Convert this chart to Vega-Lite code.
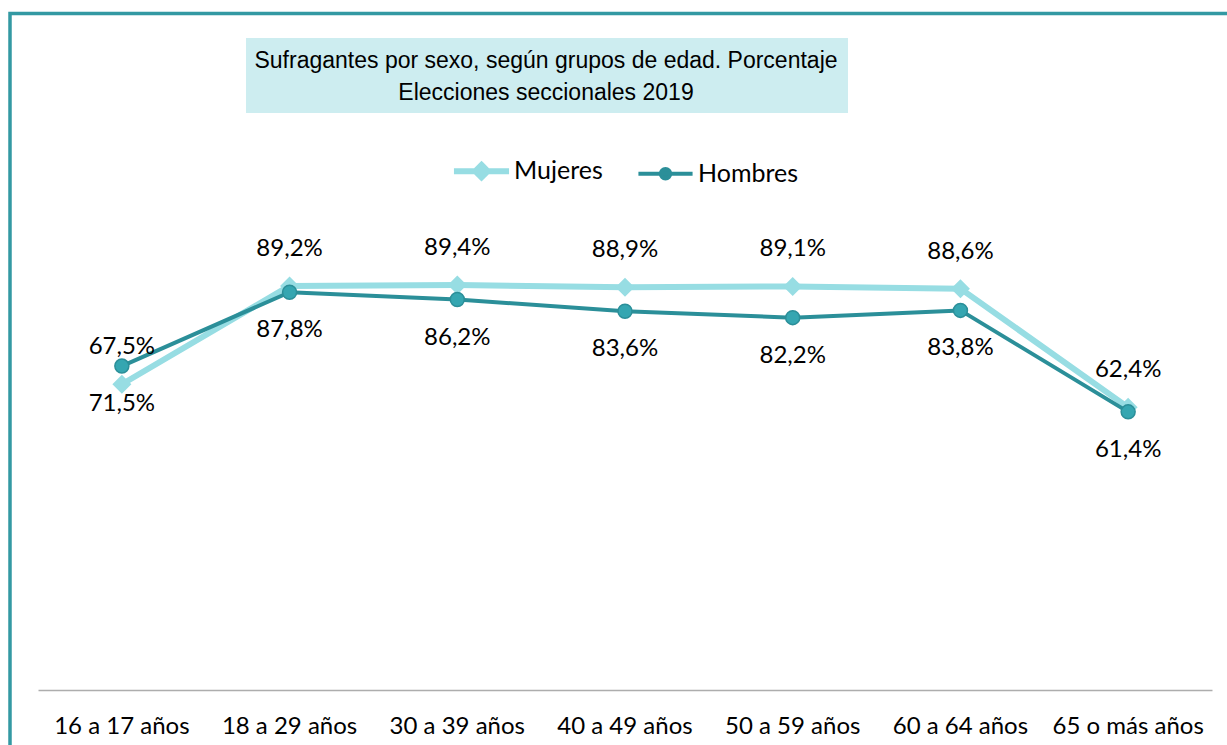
{
  "$schema": "https://vega.github.io/schema/vega-lite/v6.json",
  "width": 1217,
  "height": 731.5,
  "autosize": {"type": "none"},
  "padding": {"left": 10, "top": 13.5, "right": 0, "bottom": 0},
  "background": "white",
  "config": {
    "locale": {"number": {"decimal": ",", "thousands": ".", "grouping": [3], "currency": ["", " €"]}},
    "view": {"stroke": "#3399A3", "strokeWidth": 3.5, "strokeDash": [1217, 1948.5, 731.5]},
    "font": "Lato"
  },
  "data": {
    "values": [
      {"edad": "16 a 17 años", "sexo": "Mujeres", "valor": 0.675},
      {"edad": "18 a 29 años", "sexo": "Mujeres", "valor": 0.892},
      {"edad": "30 a 39 años", "sexo": "Mujeres", "valor": 0.894},
      {"edad": "40 a 49 años", "sexo": "Mujeres", "valor": 0.889},
      {"edad": "50 a 59 años", "sexo": "Mujeres", "valor": 0.891},
      {"edad": "60 a 64 años", "sexo": "Mujeres", "valor": 0.886},
      {"edad": "65 o más años", "sexo": "Mujeres", "valor": 0.624},
      {"edad": "16 a 17 años", "sexo": "Hombres", "valor": 0.715},
      {"edad": "18 a 29 años", "sexo": "Hombres", "valor": 0.878},
      {"edad": "30 a 39 años", "sexo": "Hombres", "valor": 0.862},
      {"edad": "40 a 49 años", "sexo": "Hombres", "valor": 0.836},
      {"edad": "50 a 59 años", "sexo": "Hombres", "valor": 0.822},
      {"edad": "60 a 64 años", "sexo": "Hombres", "valor": 0.838},
      {"edad": "65 o más años", "sexo": "Hombres", "valor": 0.614}
    ]
  },
  "layer": [
    {
      "transform": [{"filter": "datum.sexo === 'Mujeres'"}],
      "mark": {"type": "line", "color": "#97DDE3", "strokeWidth": 6, "strokeJoin": "round", "strokeCap": "round"},
      "encoding": {
        "x": {
          "field": "edad", "type": "nominal",
          "scale": {"type": "band", "domain": ["16 a 17 años", "18 a 29 años", "30 a 39 años", "40 a 49 años", "50 a 59 años", "60 a 64 años", "65 o más años"], "range": [28, 1202], "paddingInner": 0, "paddingOuter": 0},
          "axis": {"orient": "bottom", "offset": -55, "title": null, "ticks": false, "tickSize": 0, "grid": false, "domainColor": "#ADADAD", "domainWidth": 1.5, "labelFont": "Lato", "labelFontSize": 24, "labelColor": "#000000", "labelAngle": 0, "labelBaseline": "alphabetic", "labelPadding": 43, "labelLimit": 0, "labelOverlap": false}
        },
        "y": {"field": "valor", "type": "quantitative", "scale": {"domain": [0, 1], "range": [676.5, 223.5], "nice": false, "zero": false}, "axis": null}
      }
    },
    {
      "transform": [{"filter": "datum.sexo === 'Mujeres'"}],
      "mark": {"type": "point", "shape": "diamond", "filled": true, "color": "#97DDE3", "size": 361, "opacity": 1, "strokeWidth": 0},
      "encoding": {
        "x": {"field": "edad", "type": "nominal"},
        "y": {"field": "valor", "type": "quantitative"}
      }
    },
    {
      "transform": [{"filter": "datum.sexo === 'Hombres'"}],
      "mark": {"type": "line", "color": "#2B8F99", "strokeWidth": 4, "strokeJoin": "round", "strokeCap": "round"},
      "encoding": {
        "x": {"field": "edad", "type": "nominal"},
        "y": {"field": "valor", "type": "quantitative"}
      }
    },
    {
      "transform": [{"filter": "datum.sexo === 'Hombres'"}],
      "mark": {"type": "point", "shape": "circle", "filled": true, "fill": "#35A6B1", "stroke": "#2B8F99", "strokeWidth": 1.5, "size": 196, "opacity": 1},
      "encoding": {
        "x": {"field": "edad", "type": "nominal"},
        "y": {"field": "valor", "type": "quantitative"}
      }
    },
    {
      "mark": {"type": "point", "filled": true, "opacity": 1},
      "encoding": {
        "x": {"field": "edad", "type": "nominal"},
        "y": {"field": "valor", "type": "quantitative"},
        "size": {"value": 0},
        "color": {
          "field": "sexo", "type": "nominal",
          "scale": {"domain": ["Mujeres", "Hombres"], "range": ["#97DDE3", "#2B8F99"]},
          "legend": {"orient": "none", "legendX": 459, "legendY": 145, "direction": "horizontal", "title": null, "symbolSize": 361, "labelFont": "Lato", "labelFontSize": 25, "labelColor": "#000000", "labelOffset": 20, "columnPadding": 27, "padding": 0, "symbolOpacity": 1, "labelLimit": 0}
        },
        "shape": {
          "field": "sexo", "type": "nominal",
          "scale": {"domain": ["Mujeres", "Hombres"], "range": ["M-2.9,0H2.9M0,-0.65L0.65,0L0,0.65L-0.65,0Z", "M-2.85,0H2.85M0.5,0A0.5,0.5,0,1,1,-0.5,0A0.5,0.5,0,1,1,0.5,0Z"]},
          "legend": {"orient": "none", "legendX": 459, "legendY": 145, "direction": "horizontal", "title": null, "symbolSize": 361, "labelFont": "Lato", "labelFontSize": 25, "labelColor": "#000000", "labelOffset": 20, "columnPadding": 27, "padding": 0, "symbolOpacity": 1, "labelLimit": 0}
        },
        "stroke": {
          "field": "sexo", "type": "nominal",
          "scale": {"domain": ["Mujeres", "Hombres"], "range": ["#97DDE3", "#2B8F99"]},
          "legend": {"orient": "none", "legendX": 459, "legendY": 145, "direction": "horizontal", "title": null, "symbolSize": 361, "labelFont": "Lato", "labelFontSize": 25, "labelColor": "#000000", "labelOffset": 20, "columnPadding": 27, "padding": 0, "symbolOpacity": 1, "labelLimit": 0}
        },
        "strokeWidth": {
          "field": "sexo", "type": "nominal",
          "scale": {"domain": ["Mujeres", "Hombres"], "range": [6, 4]},
          "legend": {"orient": "none", "legendX": 459, "legendY": 145, "direction": "horizontal", "title": null, "symbolSize": 361, "labelFont": "Lato", "labelFontSize": 25, "labelColor": "#000000", "labelOffset": 20, "columnPadding": 27, "padding": 0, "symbolOpacity": 1, "labelLimit": 0}
        }
      }
    },
    {
      "transform": [{"filter": "datum.sexo === 'Mujeres'"}],
      "mark": {"type": "text", "dy": -37, "font": "Lato", "fontSize": 24, "baseline": "middle", "align": "center"},
      "encoding": {
        "x": {"field": "edad", "type": "nominal"},
        "y": {"field": "valor", "type": "quantitative"},
        "text": {"field": "valor", "type": "quantitative", "format": ".1%"},
        "fill": {
          "datum": 1, "type": "quantitative",
          "scale": {"domain": [0, 1], "range": ["#000000", "#000000"]},
          "legend": {"orient": "none", "legendX": 236, "legendY": 24.5, "direction": "horizontal", "title": ["Sufragantes por sexo, según grupos de edad. Porcentaje", "Elecciones seccionales 2019"], "titleFont": "Liberation Sans", "titleFontSize": 23, "titleFontWeight": "normal", "titleColor": "#000000", "titleAlign": "center", "titleAnchor": "middle", "titleLineHeight": 32, "titleLimit": 0, "titleOrient": "bottom", "titlePadding": 2, "titleBaseline": "top", "fillColor": "#CDEDF0", "padding": 8, "gradientLength": 580, "gradientThickness": 1, "gradientOpacity": 0, "gradientStrokeWidth": 0, "labelExpr": "''", "labelFontSize": 1, "labelOffset": 0}
        }
      }
    },
    {
      "transform": [{"filter": "datum.sexo === 'Hombres'"}],
      "mark": {"type": "text", "dy": 38, "font": "Lato", "fontSize": 24, "baseline": "middle", "align": "center"},
      "encoding": {
        "x": {"field": "edad", "type": "nominal"},
        "y": {"field": "valor", "type": "quantitative"},
        "text": {"field": "valor", "type": "quantitative", "format": ".1%"},
        "fill": {"datum": 1, "type": "quantitative", "legend": null}
      }
    }
  ]
}
